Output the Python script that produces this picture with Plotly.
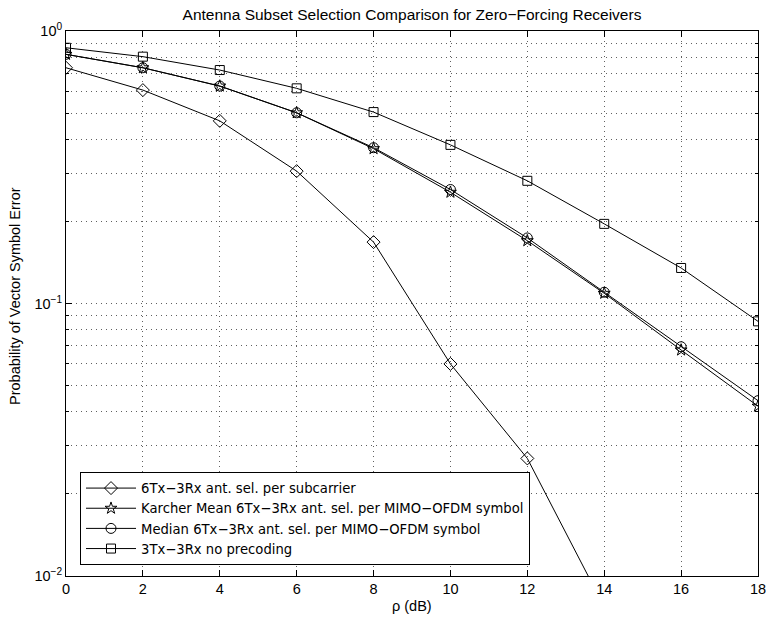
import plotly.graph_objects as go

snr_db = [0, 2, 4, 6, 8, 10, 12, 14, 16, 18]
per_subcarrier = [0.733, 0.607, 0.468, 0.306, 0.168, 0.060, 0.027, 0.0077, 0.0018, 0.0003]
karcher_mean = [0.821, 0.733, 0.628, 0.501, 0.370, 0.256, 0.170, 0.109, 0.0675, 0.042]
median_sel = [0.821, 0.733, 0.628, 0.501, 0.373, 0.262, 0.174, 0.110, 0.0694, 0.044]
no_precoding = [0.868, 0.805, 0.719, 0.616, 0.504, 0.382, 0.282, 0.196, 0.135, 0.086]

names = [
    "6Tx\u22123Rx ant. sel. per subcarrier",
    "Karcher Mean 6Tx\u22123Rx ant. sel. per MIMO\u2212OFDM symbol",
    "Median 6Tx\u22123Rx ant. sel. per MIMO\u2212OFDM symbol",
    "3Tx\u22123Rx no precoding",
]
series = [per_subcarrier, karcher_mean, median_sel, no_precoding]
symbols = ["diamond-open", "star-open", "circle-open", "square-open"]
sizes = [10, 9, 10, 9]

x_ticks = [0, 2, 4, 6, 8, 10, 12, 14, 16, 18]
y_ticks = [0.01, 0.1, 1]
y_tick_text = ["10<sup>\u22122</sup>", "10<sup>\u22121</sup>", "10<sup>0</sup>"]
y_minor = [m * d for d in (0.01, 0.1) for m in range(2, 10)]

FONT = "Liberation Sans, Arial, Helvetica, sans-serif"
LEGEND_FONT = "DejaVu Sans, Liberation Sans, sans-serif"
GRID = "#606060"
DOT = "1px,4px"

W, H = 766, 619
L, R, T, B = 66, 8, 31, 43
PW, PH = W - L - R, H - T - B

fig = go.Figure()
for name, vals, sym, sz in zip(names, series, symbols, sizes):
    fig.add_trace(go.Scatter(
        x=snr_db, y=vals, name=name, mode="lines+markers",
        line=dict(color="black", width=1),
        marker=dict(symbol=sym, size=sz, color="black", line=dict(color="black", width=1)),
        cliponaxis=True,
    ))

fig.update_layout(
    width=W, height=H,
    margin=dict(l=L, r=R, t=T, b=B, autoexpand=False),
    paper_bgcolor="white", plot_bgcolor="white",
    font=dict(family=FONT, size=14.5, color="black"),
    hovermode=False,
    title=dict(text="Antenna Subset Selection Comparison for Zero\u2212Forcing Receivers",
               x=0.5, xref="paper", xanchor="center", y=1 - 15 / H, yanchor="middle",
               font=dict(size=15.5)),
    showlegend=True,
    legend=dict(x=14 / PW, y=11 / PH, xanchor="left", yanchor="bottom",
                bordercolor="black", borderwidth=1, bgcolor="white",
                font=dict(family=LEGEND_FONT, size=13.2), itemwidth=50, tracegroupgap=0),
)

fig.update_xaxes(
    range=[0, 18], tickvals=x_ticks, ticks="inside", ticklen=6, tickcolor="black",
    showline=True, linecolor="black", linewidth=1, mirror="ticks",
    showgrid=True, gridcolor=GRID, griddash=DOT, gridwidth=1,
    zeroline=False, tickfont=dict(size=14.5), ticklabeloverflow="allow",
)
fig.update_yaxes(
    type="log", range=[-2, 0], tickvals=y_ticks, ticktext=y_tick_text,
    ticks="inside", ticklen=6, tickcolor="black",
    showline=True, linecolor="black", linewidth=1, mirror="ticks",
    showgrid=True, gridcolor=GRID, griddash=DOT, gridwidth=1,
    zeroline=False, tickfont=dict(size=14.5),
    minor=dict(tickvals=y_minor, ticks="inside", ticklen=3, tickcolor="black",
               showgrid=True, gridcolor=GRID, griddash=DOT, gridwidth=1),
)

fig.add_annotation(text="\u03c1 (dB)", xref="paper", yref="paper",
                   x=0.5, y=-(606 - (H - B)) / PH, xanchor="center", yanchor="middle",
                   showarrow=False, font=dict(size=14.5))
fig.add_annotation(text="Probability of Vector Symbol Error", xref="paper", yref="paper",
                   x=-(L - 15) / PW, y=(H - B - 296) / PH, xanchor="center", yanchor="middle",
                   textangle=-90, showarrow=False, font=dict(size=14.5))

# Remove the page's default 8px body margin so the figure fills the window exactly.
fig.write_html("out.html", config={"displayModeBar": False, "staticPlot": True},
               post_script="document.body.style.margin='0px';")
